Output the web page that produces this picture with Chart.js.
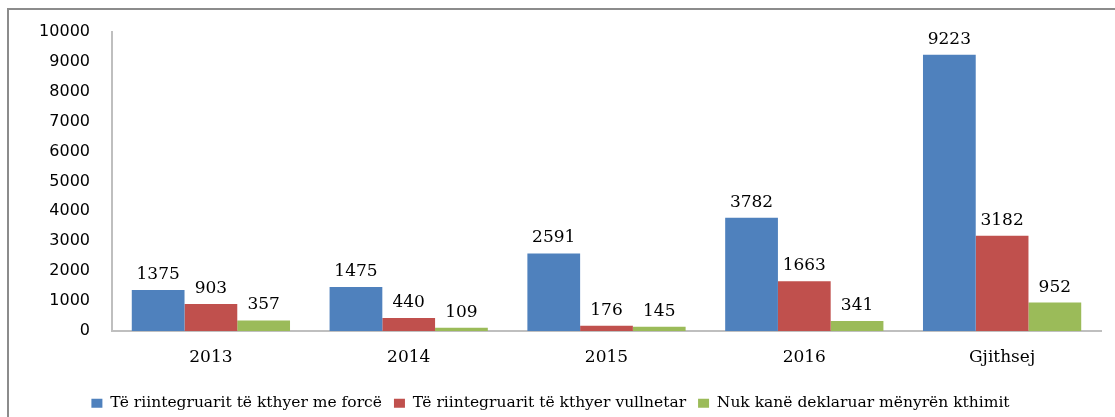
<!DOCTYPE html>
<html>
<head>
<meta charset="utf-8">
<script src="https://cdn.jsdelivr.net/npm/chart.js@4.4.0/dist/chart.umd.min.js"></script>
<style>
  body { margin: 0; background: #fff; }
  #grafico { position: absolute; left: 0; top: 0; }
</style>
</head>
<body>
<canvas id="grafico" width="1115" height="417"></canvas>
<script>
const categorias = ["2013", "2014", "2015", "2016", "Gjithsej"];
const conForca = [1375, 1475, 2591, 3782, 9223];
const vullnetar = [903, 440, 176, 1663, 3182];
const paDeklaruar = [357, 109, 145, 341, 952];
const nombresSeries = [
    "Të riintegruarit të kthyer me forcë",
    "Të riintegruarit të kthyer vullnetar",
    "Nuk kanë deklaruar mënyrën kthimit"
];

// marco gris del gráfico original (solo izquierda y arriba visibles)
const marco = {
    id: 'marco',
    beforeDraw(chart) {
        const c = chart.ctx;
        c.save();
        c.fillStyle = '#fff';
        c.fillRect(0, 0, chart.width, chart.height);
        c.strokeStyle = '#8c8c8c';
        c.lineWidth = 2;
        c.beginPath();
        c.moveTo(8, 417);
        c.lineTo(8, 9);
        c.lineTo(1115, 9);
        c.stroke();
        c.restore();
    }
};

// valores encima de cada barra
const etiquetas = {
    id: 'etiquetas',
    afterDatasetsDraw(chart) {
        const c = chart.ctx;
        c.save();
        c.font = '17px "DejaVu Serif"';
        c.fillStyle = '#000';
        c.textAlign = 'center';
        c.textBaseline = 'alphabetic';
        chart.data.datasets.forEach((ds, i) => {
            chart.getDatasetMeta(i).data.forEach((bar, j) => {
                c.fillText(ds.data[j], bar.x, bar.y - 11);
            });
        });
        c.restore();
    }
};

const ctx = document.getElementById('grafico').getContext('2d');
new Chart(ctx, {
    type: 'bar',
    data: {
        labels: categorias,
        datasets: [
            { label: nombresSeries[0], data: conForca, backgroundColor: '#4F81BD' },
            { label: nombresSeries[1], data: vullnetar, backgroundColor: '#C0504D' },
            { label: nombresSeries[2], data: paDeklaruar, backgroundColor: '#9BBB59' }
        ]
    },
    options: {
        responsive: false,
        animation: false,
        categoryPercentage: 0.8,
        barPercentage: 1.0,
        layout: { padding: { top: 28, right: 14, left: 0, bottom: -4 } },
        plugins: {
            legend: {
                position: 'bottom',
                labels: {
                    boxWidth: 11,
                    boxHeight: 9,
                    padding: 12,
                    color: '#000',
                    font: { family: 'DejaVu Serif', size: 15.5 }
                }
            },
            tooltip: { enabled: false }
        },
        scales: {
            x: {
                grid: { display: false, drawTicks: false },
                border: { color: '#bfbfbf', width: 2 },
                ticks: {
                    color: '#000',
                    padding: 16,
                    font: { family: 'DejaVu Serif', size: 17 }
                }
            },
            y: {
                min: 0,
                max: 10000,
                afterFit: s => { s.width = 112; },
                grid: { display: false, drawTicks: false },
                border: { color: '#bfbfbf', width: 2 },
                ticks: {
                    stepSize: 1000,
                    color: '#000',
                    padding: 22,
                    callback: v => String(v),
                    font: { family: 'DejaVu Sans', size: 16 }
                }
            }
        }
    },
    plugins: [marco, etiquetas]
});
</script>
</body>
</html>
